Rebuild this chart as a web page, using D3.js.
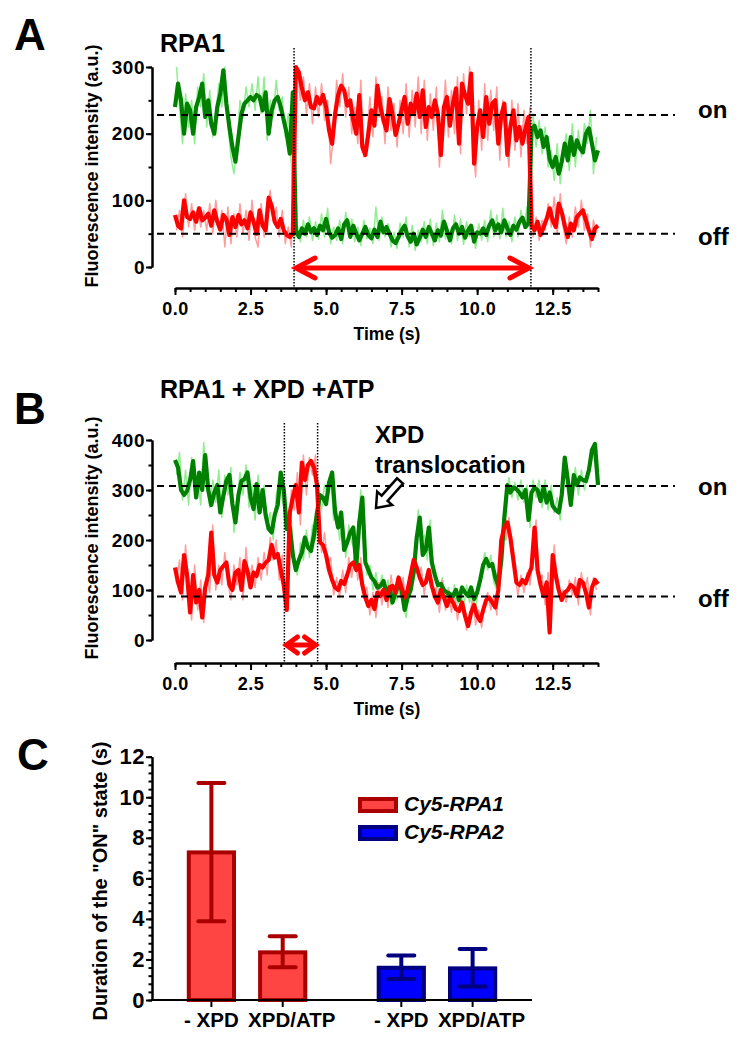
<!DOCTYPE html>
<html>
<head>
<meta charset="utf-8">
<script src="https://cdn.jsdelivr.net/npm/d3@7"></script>
<style>
body{margin:0;background:#fff;}
svg text{font-family:"Liberation Sans",Arial,Helvetica,sans-serif;font-weight:bold;fill:#000;}
</style>
</head>
<body>
<div id="chart"></div>
<script>
'use strict';

// smoothed traces, one value every 0.1 s (0.0 ... 14.0 s)
var greenA = [
	240,275,250,200,245,235,200,240,255,275,
	225,250,215,200,240,260,295,245,210,180,
	158,195,230,245,250,255,250,258,255,235,
	262,200,235,250,255,240,220,200,170,262,
	55,45,58,50,64,52,58,48,62,55,
	72,52,44,48,58,42,64,70,45,62,
	50,40,50,60,48,43,56,45,68,52,
	60,50,40,36,45,55,62,46,38,50,
	34,44,56,45,60,50,40,55,47,68,
	55,40,58,64,50,60,44,55,62,38,
	52,50,58,48,62,70,55,64,52,70,
	58,48,62,56,68,74,60,66,205,212,
	195,205,180,195,162,150,165,140,158,185,
	160,195,168,190,178,172,200,208,185,160,
	175];
var redA = [
	78,62,58,100,75,72,82,68,88,70,
	74,80,62,85,68,56,78,72,48,75,
	60,78,64,70,58,82,68,50,85,62,
	55,104,92,68,60,72,55,48,45,50,
	300,292,268,250,262,240,238,255,245,258,
	240,205,185,230,258,272,265,242,250,220,
	200,258,180,168,200,235,212,272,240,220,
	205,252,228,198,215,235,255,215,245,230,
	260,225,265,210,240,225,250,230,168,240,
	255,212,245,268,185,275,258,245,290,155,
	210,235,195,255,215,245,250,185,228,245,
	168,210,235,190,210,185,208,225,62,55,
	68,48,60,72,88,70,60,95,82,62,
	45,65,55,75,80,85,70,55,42,58,
	62];
var greenB = [
	360,345,300,290,298,320,358,285,335,300,
	370,300,270,295,310,255,288,318,330,272,
	235,290,318,322,335,285,262,312,255,300,
	250,222,215,250,270,335,300,222,225,170,
	140,160,175,205,185,178,210,255,290,285,
	272,315,335,255,225,255,180,195,215,225,
	148,235,285,155,140,125,118,105,108,118,
	95,105,75,95,112,100,60,85,100,135,
	205,245,170,180,225,155,130,110,112,100,
	95,92,88,100,80,105,95,88,105,82,
	95,120,150,162,148,152,125,108,160,245,
	310,295,305,302,295,285,300,240,295,305,
	300,278,305,275,295,268,260,255,290,365,
	320,270,330,310,325,320,318,340,380,392,
	310];
var redB = [
	145,115,95,170,130,55,130,75,100,45,
	105,130,215,130,115,140,148,155,110,100,
	135,140,100,158,138,105,135,128,150,145,
	155,160,190,165,172,140,110,60,255,285,
	310,255,355,320,350,358,345,310,195,190,
	170,140,120,105,100,118,112,130,150,155,
	140,150,110,85,68,80,62,95,88,100,
	80,105,108,95,125,105,85,100,130,160,
	145,125,110,115,140,108,88,75,100,85,
	68,85,75,62,58,75,48,28,55,70,
	48,38,60,80,85,75,65,100,200,225,
	235,205,160,115,110,120,113,130,145,225,
	140,110,88,115,15,170,130,100,80,95,
	100,110,105,88,120,115,95,65,105,120,
	112];

// raw (unsmoothed) traces, one value every 0.1 s starting at 0.05 s
var rawGreenA = [
	300,240,185,260,210,250,185,270,240,290,
	210,265,195,230,275,240,300,215,165,140,
	180,250,225,270,240,275,235,285,230,285,
	190,250,225,280,235,255,195,230,155,40,
	62,38,70,45,75,40,68,42,80,45,
	88,35,60,40,70,35,82,48,72,38,
	60,32,70,42,58,35,90,40,75,45,
	65,30,52,28,66,45,75,30,62,25,
	55,38,68,35,72,32,66,38,85,42,
	55,35,78,40,72,34,68,45,55,28,
	65,40,70,38,85,45,78,42,88,45,
	68,38,75,45,85,58,90,55,230,180,
	220,170,210,150,175,130,185,125,170,200,
	145,215,150,205,165,215,185,235,140,195];
var rawRedA = [
	55,85,45,110,60,95,55,90,60,85,
	55,95,50,100,55,85,30,90,35,80,
	45,95,50,85,40,100,45,30,95,45,
	80,115,70,90,45,85,35,60,30,280,
	300,250,285,230,275,215,270,225,275,220,
	250,155,200,280,240,290,225,270,200,240,
	185,280,165,195,255,195,285,225,255,185,
	270,205,245,180,250,200,275,195,265,210,
	285,200,280,190,260,205,270,150,215,280,
	195,265,200,285,170,290,230,300,195,135,
	250,175,275,190,265,205,270,160,250,200,
	150,250,175,245,165,235,185,240,45,75,
	40,70,55,95,60,105,50,110,60,35,
	75,45,90,60,100,55,80,30,70,50];
var rawGreenB = [
	330,375,280,340,270,365,300,330,270,395,
	310,265,320,275,340,245,330,290,345,215,
	270,335,290,350,265,310,240,330,270,310,
	230,255,200,290,320,280,250,200,240,150,
	130,195,160,220,165,230,200,300,260,310,
	290,330,240,260,200,240,165,230,195,180,
	220,300,200,130,150,100,135,95,130,85,
	120,70,110,80,125,70,45,100,115,170,
	260,200,210,160,240,140,115,95,125,80,
	105,75,110,70,95,65,110,75,100,60,
	110,140,175,140,170,115,100,130,200,285,
	325,285,315,280,320,275,310,225,320,285,
	320,265,320,260,310,255,285,240,320,345,
	290,300,345,290,340,300,335,355,370,330];
var rawRedB = [
	120,160,80,190,100,40,150,60,120,35,
	130,95,230,100,150,110,175,120,80,150,
	110,165,80,185,110,150,105,165,120,175,
	130,205,160,200,120,170,80,130,300,260,
	335,230,370,290,365,330,370,250,175,215,
	150,165,90,125,85,140,95,165,125,175,
	120,165,90,105,50,95,45,115,70,120,
	65,130,85,120,90,125,65,120,145,175,
	125,145,90,135,120,85,105,55,120,60,
	100,55,95,40,80,60,20,45,85,30,
	60,25,75,95,60,90,50,140,230,200,
	245,180,130,90,130,95,135,110,175,240,
	115,130,70,135,40,190,115,80,100,75,
	120,90,125,70,135,95,125,50,125,100];

var timeTicks = [0, 2.5, 5, 7.5, 10, 12.5];
var ticksA = [0, 100, 200, 300];
var ticksB = [0, 100, 200, 300, 400];
var levelNames = ["on", "off"];
var levelsA = [228, 50];
var levelsB = [308, 87];
var dwellA = [3.94, 11.78];
var dwellB = [3.62, 4.72];

// panel C
var proteins = ["Cy5-RPA1", "Cy5-RPA2"];
var conditions = ["- XPD", "XPD/ATP"];
var meanRPA1 = [7.28, 2.35];
var lowRPA1 = [3.88, 1.61];
var highRPA1 = [10.7, 3.14];
var meanRPA2 = [1.59, 1.56];
var lowRPA2 = [1.04, 0.66];
var highRPA2 = [2.2, 2.51];
var durTicks = [0, 2, 4, 6, 8, 10, 12];
var labelShift = [0, 9];

var dt = 0.1;
var svg = d3.select("#chart").append("svg")
	.attr("width", 752)
	.attr("height", 1050);

function styleAxis(g, size){
	g.attr("font-family", null).attr("font-size", null);
	g.select(".domain").attr("stroke", "#000").attr("stroke-width", 2);
	g.selectAll(".tick line").attr("stroke", "#000").attr("stroke-width", 2);
	g.selectAll(".tick text").style("font-size", size + "px").style("letter-spacing", "0.5px").attr("fill", "#000");
}

function redArrow(g, x1, x2, y, len, half){
	g.append("line")
		.attr("x1", x1 + 3).attr("x2", x2 - 3)
		.attr("y1", y).attr("y2", y)
		.attr("stroke", "#FF0000").attr("stroke-width", 5);
	g.append("path")
		.attr("d", "M" + (x1 + len) + "," + (y - half) + "L" + x1 + "," + y + "L" + (x1 + len) + "," + (y + half) +
			"M" + (x2 - len) + "," + (y - half) + "L" + x2 + "," + y + "L" + (x2 - len) + "," + (y + half))
		.attr("fill", "none").attr("stroke", "#FF0000").attr("stroke-width", 5)
		.attr("stroke-linejoin", "miter").attr("stroke-linecap", "round");
}

function tracePanel(p){
	var x = d3.scaleLinear().domain([0, 14]).range([175, 598]);
	var y = d3.scaleLinear().domain([0, p.yMax]).range([p.yBottom, p.yTop]);
	var g = svg.append("g");

	g.append("text").attr("x", 14).attr("y", p.letterY).style("font-size", "44px").text(p.letter);
	g.append("text").attr("x", 160).attr("y", p.titleY).style("font-size", "25px").text(p.title);

	// traces: raw first, smoothed on top, red over green
	var traces = [
		{d: p.rawGreen, c: "#90EE90", w: 1.5, off: dt / 2},
		{d: p.rawRed, c: "#FF9C9C", w: 1.5, off: dt / 2},
		{d: p.green, c: "#008000", w: 4.2, off: 0},
		{d: p.red, c: "#FF0000", w: 4.2, off: 0}
	];
	traces.forEach(function(t){
		var line = d3.line()
			.x(function(d, i){ return x(i * dt + t.off); })
			.y(function(d){ return y(d); });
		g.append("path")
			.datum(t.d)
			.attr("d", line)
			.attr("fill", "none")
			.attr("stroke", t.c)
			.attr("stroke-width", t.w)
			.attr("stroke-linejoin", "round");
	});

	// on / off levels
	p.levels.forEach(function(v, i){
		g.append("line")
			.attr("x1", x.range()[0] - 18).attr("x2", x.range()[1] + 77)
			.attr("y1", y(v)).attr("y2", y(v))
			.attr("stroke", "#000").attr("stroke-width", 2)
			.attr("stroke-dasharray", "7,5");
		g.append("text")
			.attr("x", 698).attr("y", y(v) + p.levelDy[i])
			.style("font-size", "24px")
			.text(levelNames[i]);
	});

	// dwell markers
	p.dwell.forEach(function(t){
		g.append("line")
			.attr("x1", x(t)).attr("x2", x(t))
			.attr("y1", p.dotTop).attr("y2", p.axisY)
			.attr("stroke", "#000").attr("stroke-width", 1.5)
			.attr("stroke-dasharray", "1.5,1.5");
	});
	redArrow(g, x(p.dwell[0]) + 2, x(p.dwell[1]) - 2, p.arrowY, p.headLen, p.headHalf);

	// axes
	var yMinor = g.append("g").attr("transform", "translate(152,0)")
		.call(d3.axisLeft(y).tickValues(d3.range(0, p.yMax + 1, 50)).tickSize(3.5).tickSizeOuter(0).tickFormat(""));
	styleAxis(yMinor, 19);
	var yAxis = g.append("g").attr("transform", "translate(152,0)")
		.call(d3.axisLeft(y).tickValues(p.yTicks).tickSize(6).tickPadding(1).tickSizeOuter(0));
	styleAxis(yAxis, 19);

	var xMinor = g.append("g").attr("transform", "translate(0," + p.axisY + ")")
		.call(d3.axisBottom(x).tickValues(d3.range(0, 14.01, 0.5)).tickSize(4).tickSizeOuter(0).tickFormat(""));
	styleAxis(xMinor, 18);
	var xAxis = g.append("g").attr("transform", "translate(0," + p.axisY + ")")
		.call(d3.axisBottom(x).tickValues(timeTicks).tickSize(7).tickPadding(7).tickSizeOuter(0).tickFormat(d3.format(".1f")));
	styleAxis(xAxis, 18);

	g.append("text")
		.attr("x", 387).attr("y", p.axisY + 52)
		.attr("text-anchor", "middle")
		.style("font-size", "17.5px")
		.text("Time (s)");
	g.append("text")
		.attr("transform", "translate(98," + p.labelY + ") rotate(-90)")
		.attr("text-anchor", "middle")
		.style("font-size", "18px")
		.text("Fluorescence intensity (a.u.)");
	return g;
}

tracePanel({
	letter: "A", letterY: 50, title: "RPA1", titleY: 52,
	green: greenA, red: redA, rawGreen: rawGreenA, rawRed: rawRedA,
	yMax: 300, yTicks: ticksA, yBottom: 267, yTop: 67, axisY: 288,
	levels: levelsA, levelDy: [3, 11],
	dwell: dwellA, dotTop: 48, arrowY: 268, headLen: 19, headHalf: 10,
	labelY: 166
});

var panelB = tracePanel({
	letter: "B", letterY: 424, title: "RPA1 + XPD +ATP", titleY: 398,
	green: greenB, red: redB, rawGreen: rawGreenB, rawRed: rawRedB,
	yMax: 400, yTicks: ticksB, yBottom: 640, yTop: 440, axisY: 663,
	levels: levelsB, levelDy: [9, 10],
	dwell: dwellB, dotTop: 423, arrowY: 645, headLen: 11, headHalf: 8,
	labelY: 538
});

// XPD translocation note with hollow arrow
panelB.append("text").attr("x", 375).attr("y", 443).style("font-size", "24px").text("XPD");
panelB.append("text").attr("x", 375).attr("y", 473).style("font-size", "24px").text("translocation");
(function(){
	var tail = [400, 481], tip = [376, 508];
	var L = Math.hypot(tip[0] - tail[0], tip[1] - tail[1]);
	var ang = Math.atan2(tip[1] - tail[1], tip[0] - tail[0]) * 180 / Math.PI;
	var pts = [[0, -4], [L - 13, -4], [L - 13, -10], [L, 0], [L - 13, 10], [L - 13, 4], [0, 4]];
	panelB.append("polygon")
		.attr("points", pts.map(function(q){ return q.join(","); }).join(" "))
		.attr("transform", "translate(" + tail[0] + "," + tail[1] + ") rotate(" + ang + ")")
		.attr("fill", "#fff").attr("stroke", "#000").attr("stroke-width", 2.5)
		.attr("stroke-linejoin", "miter");
})();

// ---- panel C: bar chart ----
var gC = svg.append("g");
gC.append("text").attr("x", 17).attr("y", 770).style("font-size", "44px").text("C");

var yC = d3.scaleLinear().domain([0, 12]).range([1000, 756.7]);
var outer = d3.scaleBand().domain(proteins).range([152, 532]).paddingInner(0.249).paddingOuter(0.125);
var inner = d3.scaleBand().domain(conditions).range([0, outer.bandwidth()]).paddingInner(0.31).paddingOuter(0.155);

var groups = [
	{name: proteins[0], mean: meanRPA1, low: lowRPA1, high: highRPA1, fill: "#FF4444", stroke: "#AA0000"},
	{name: proteins[1], mean: meanRPA2, low: lowRPA2, high: highRPA2, fill: "#0000FF", stroke: "#000080"}
];

groups.forEach(function(gr){
	var bars = conditions.map(function(c, i){
		return {c: c, i: i, v: gr.mean[i], lo: gr.low[i], hi: gr.high[i]};
	});
	var gg = gC.append("g").attr("transform", "translate(" + outer(gr.name) + ",0)");
	gg.selectAll(".bar").data(bars).enter().append("rect")
		.attr("class", "bar")
		.attr("x", function(d){ return inner(d.c) + 2; })
		.attr("width", inner.bandwidth() - 4)
		.attr("y", function(d){ return yC(d.v); })
		.attr("height", function(d){ return yC(0) - yC(d.v); })
		.attr("fill", gr.fill)
		.attr("stroke", gr.stroke)
		.attr("stroke-width", 4);
	var cx = function(d){ return inner(d.c) + inner.bandwidth() / 2; };
	gg.selectAll(".err").data(bars).enter().append("line")
		.attr("x1", cx).attr("x2", cx)
		.attr("y1", function(d){ return yC(d.lo); })
		.attr("y2", function(d){ return yC(d.hi); })
		.attr("stroke", gr.stroke).attr("stroke-width", 4);
	["lo", "hi"].forEach(function(k){
		gg.selectAll(".cap-" + k).data(bars).enter().append("line")
			.attr("x1", function(d){ return cx(d) - 13; })
			.attr("x2", function(d){ return cx(d) + 13; })
			.attr("y1", function(d){ return yC(d[k]); })
			.attr("y2", function(d){ return yC(d[k]); })
			.attr("stroke", gr.stroke).attr("stroke-width", 4)
			.attr("stroke-linecap", "round");
	});
	// category ticks and labels
	gg.selectAll(".ctick").data(bars).enter().append("line")
		.attr("x1", cx).attr("x2", cx)
		.attr("y1", yC(0)).attr("y2", yC(0) + 7)
		.attr("stroke", "#000").attr("stroke-width", 2);
	gg.selectAll(".clabel").data(bars).enter().append("text")
		.attr("x", function(d){ return cx(d) + labelShift[d.i]; })
		.attr("y", yC(0) + 27)
		.attr("text-anchor", "middle")
		.style("font-size", "20.5px")
		.text(function(d){ return d.c; });
});

gC.append("line")
	.attr("x1", 151).attr("x2", 532)
	.attr("y1", yC(0)).attr("y2", yC(0))
	.attr("stroke", "#000").attr("stroke-width", 2);

var cMinor = gC.append("g").attr("transform", "translate(152,0)")
	.call(d3.axisLeft(yC).tickValues(d3.range(0, 12.01, 0.4)).tickSize(3.5).tickSizeOuter(0).tickFormat(""));
styleAxis(cMinor, 22);
var cAxis = gC.append("g").attr("transform", "translate(152,0)")
	.call(d3.axisLeft(yC).tickValues(durTicks).tickSize(6).tickPadding(1).tickSizeOuter(0));
styleAxis(cAxis, 22);

gC.append("text")
	.attr("transform", "translate(107,881) rotate(-90)")
	.attr("text-anchor", "middle")
	.style("font-size", "20px")
	.text("Duration of the \"ON\" state (s)");

// legend
var legend = gC.selectAll(".legend").data(groups).enter().append("g")
	.attr("class", "legend")
	.attr("transform", function(d, i){ return "translate(360," + (799 + i * 28) + ")"; });
legend.append("rect")
	.attr("width", 36).attr("height", 12)
	.attr("fill", function(d){ return d.fill; })
	.attr("stroke", function(d){ return d.stroke; })
	.attr("stroke-width", 4);
legend.append("text")
	.attr("x", 44).attr("y", 12)
	.style("font-size", "21px")
	.style("font-style", "italic")
	.text(function(d){ return d.name; });
</script>
</body>
</html>
